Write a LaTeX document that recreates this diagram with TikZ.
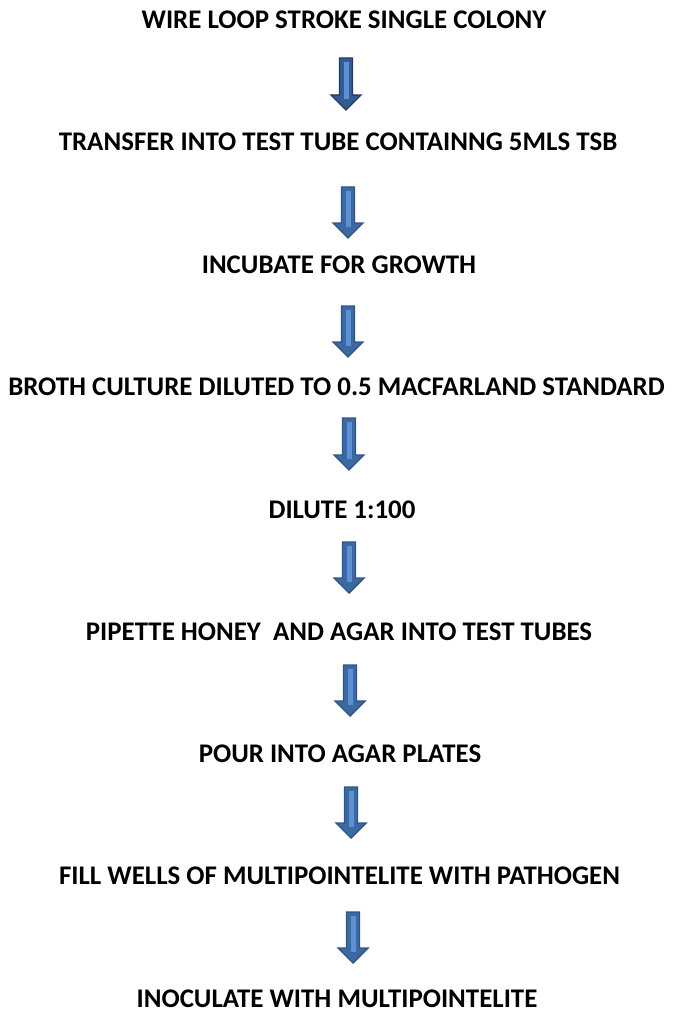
\documentclass[tikz,border=0pt]{standalone}
\usepackage{fontspec}
\setmainfont{Carlito}
\definecolor{arrowedge}{HTML}{2F5487}
\definecolor{arrowfill}{HTML}{3D69A3}
\definecolor{arrowlight}{HTML}{5C91D3}
\tikzset{
  steptext/.style={font=\bfseries\fontsize{26.9}{30}\selectfont, inner sep=0pt, anchor=center},
  arrowbody/.style={fill=arrowfill, draw=arrowedge, line width=1.4pt, line join=miter},
  arrowstripe/.style={fill=arrowlight, draw=none},
}
\usetikzlibrary{calc}
\newcommand{\flowarrow}[4]{% name, cx, top, tip
  \coordinate (#1top) at (#2,#3);
  \coordinate (#1tip) at (#2,#4);
  \draw[arrowbody] ($(#1top)+(-6.5,0)$) -- ($(#1top)+(6.5,0)$) -- ($(#1tip)+(6.5,-15)$)
     -- ($(#1tip)+(15,-15)$) -- (#1tip) -- ($(#1tip)+(-15,-15)$) -- ($(#1tip)+(-6.5,-15)$) -- cycle;
  \fill[arrowstripe] ($(#1top)+(-2.5,4)$) rectangle ($(#1tip)+(2.5,-11)$);
}
\begin{document}
\begin{tikzpicture}[x=1pt,y=-1pt]
\useasboundingbox (0,0) rectangle (673,1011);
\node[steptext] (s1) at (344,20) {WIRE LOOP STROKE SINGLE COLONY};
\node[steptext] (s2) at (338,141.5) {TRANSFER INTO TEST TUBE CONTAINNG 5MLS TSB};
\node[steptext] (s3) at (339,265) {INCUBATE FOR GROWTH};
\node[steptext] (s4) at (336.5,386.5) {BROTH CULTURE DILUTED TO 0.5 MACFARLAND STANDARD};
\node[steptext] (s5) at (342,509.5) {DILUTE 1:100};
\node[steptext] (s6) at (339,631.5) {PIPETTE HONEY\ \ AND AGAR INTO TEST TUBES};
\node[steptext] (s7) at (340,753.5) {POUR INTO AGAR PLATES};
\node[steptext] (s8) at (339.5,876) {FILL WELLS OF MULTIPOINTELITE WITH PATHOGEN};
\node[steptext] (s9) at (337,998.5) {INOCULATE WITH MULTIPOINTELITE};
\begin{scope}
\definecolor{arrowfill}{HTML}{355C92}
\definecolor{arrowedge}{HTML}{213D63}
\flowarrow{a1}{346}{58}{110}
\end{scope}
\flowarrow{a2}{348}{187}{238}
\flowarrow{a3}{348}{306}{357}
\flowarrow{a4}{349}{418}{470}
\flowarrow{a5}{349}{542}{593}
\flowarrow{a6}{350}{665}{716}
\flowarrow{a7}{351}{787}{838}
\flowarrow{a8}{353}{912}{963}
\end{tikzpicture}
\end{document}
